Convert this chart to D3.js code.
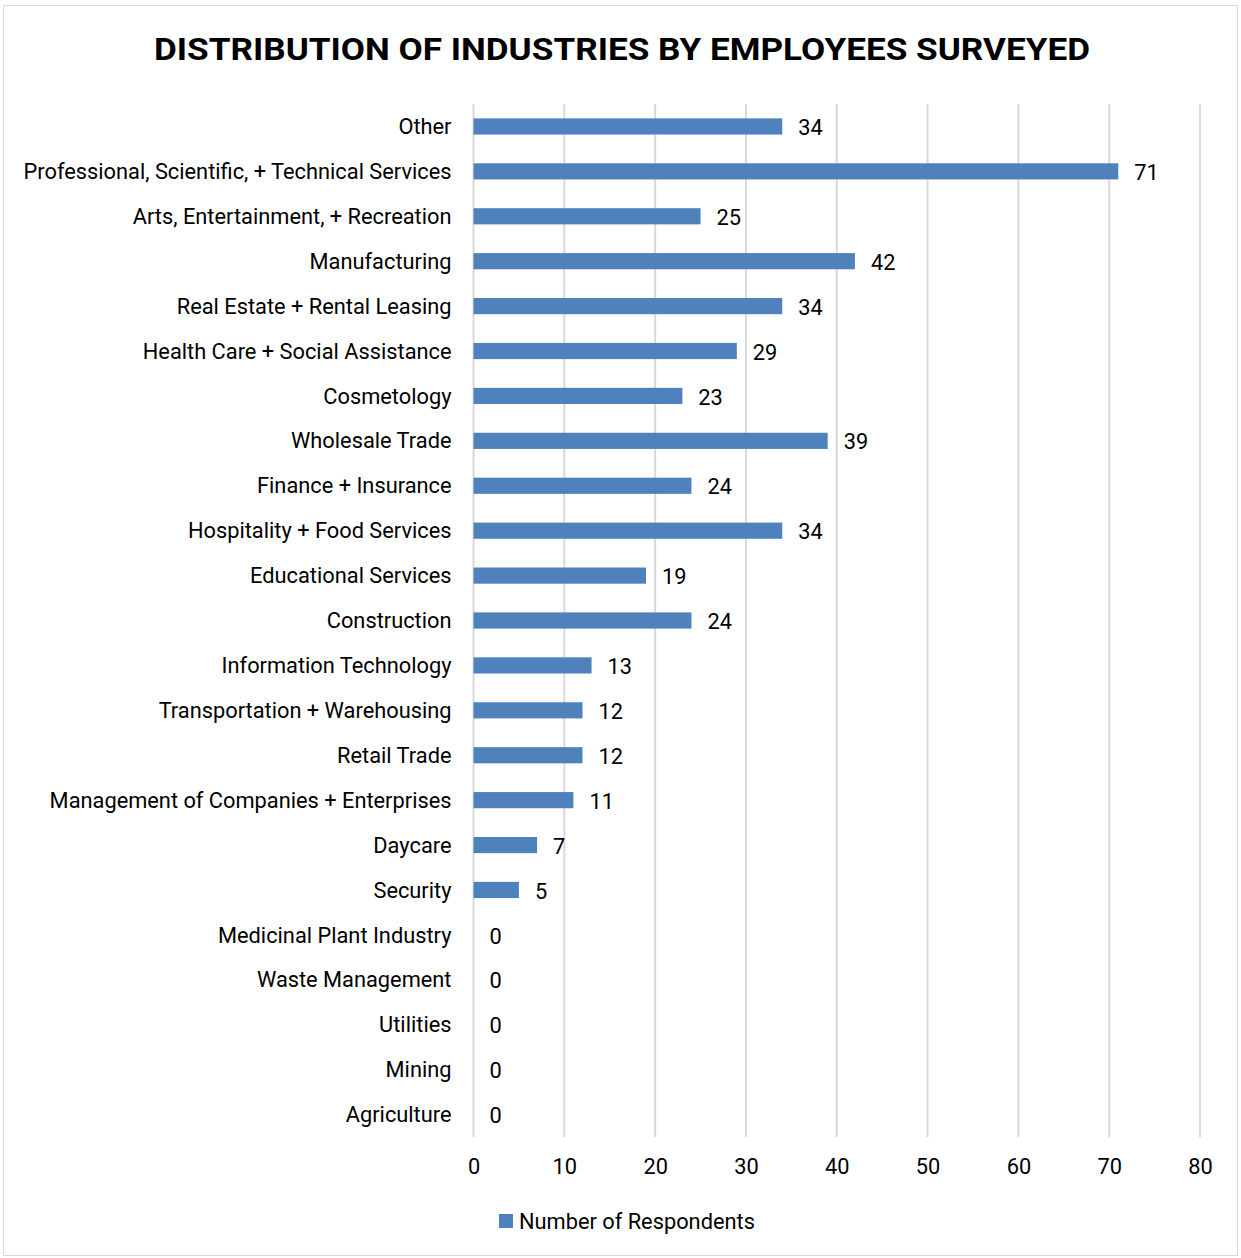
<!DOCTYPE html>
<html>
<head>
<meta charset="utf-8">
<script src="https://cdn.jsdelivr.net/npm/d3@7"></script>
<style>
  html, body { margin: 0; padding: 0; background: #fff; }
  svg { display: block; }
  text { font-family: Roboto, "Noto Sans", sans-serif; fill: #000; }
</style>
</head>
<body>
<svg id="chart" width="1241" height="1258"></svg>
<script>
// Industry categories, top to bottom
const categories = [
  "Other",
  "Professional, Scientific, + Technical Services",
  "Arts, Entertainment, + Recreation",
  "Manufacturing",
  "Real Estate + Rental Leasing",
  "Health Care + Social Assistance",
  "Cosmetology",
  "Wholesale Trade",
  "Finance + Insurance",
  "Hospitality + Food Services",
  "Educational Services",
  "Construction",
  "Information Technology",
  "Transportation + Warehousing",
  "Retail Trade",
  "Management of Companies + Enterprises",
  "Daycare",
  "Security",
  "Medicinal Plant Industry",
  "Waste Management",
  "Utilities",
  "Mining",
  "Agriculture"
];

// Number of respondents per industry
const respondents = [34, 71, 25, 42, 34, 29, 23, 39, 24, 34, 19, 24, 13, 12, 12, 11, 7, 5, 0, 0, 0, 0, 0];

// Value-axis ticks
const xTicks = [0, 10, 20, 30, 40, 50, 60, 70, 80];

const seriesName = "Number of Respondents";
const titleText = "DISTRIBUTION OF INDUSTRIES BY EMPLOYEES SURVEYED";

const data = categories.map((c, i) => ({ category: c, value: respondents[i] }));

const svg = d3.select("#chart");
const W = 1241, H = 1258;
const FS = 21.8;

// Outer chart frame
svg.append("rect")
  .attr("x", 3.5).attr("y", 5.5)
  .attr("width", W - 7).attr("height", H - 8)
  .attr("fill", "#fff")
  .attr("stroke", "#d9d9d9")
  .attr("stroke-width", 1);

const plot = { left: 473.5, right: 1200, top: 104, bottom: 1137 };

const x = d3.scaleLinear().domain([0, 80]).range([plot.left, plot.right]);
const y = d3.scaleBand().domain(categories).range([plot.top, plot.bottom]).paddingInner(0.64).paddingOuter(0.32);

// Vertical gridlines
svg.append("g")
  .selectAll("line")
  .data(xTicks)
  .join("line")
  .attr("x1", d => x(d)).attr("x2", d => x(d))
  .attr("y1", plot.top).attr("y2", plot.bottom)
  .attr("stroke", "#d9d9d9")
  .attr("stroke-width", 2);

// Title
svg.append("text")
  .attr("x", 622).attr("y", 60)
  .attr("text-anchor", "middle")
  .attr("font-size", 32)
  .attr("font-weight", 700)
  .attr("textLength", 936)
  .attr("lengthAdjust", "spacingAndGlyphs")
  .text(titleText);

// Bars
svg.append("g")
  .selectAll("rect")
  .data(data.filter(d => d.value > 0))
  .join("rect")
  .attr("x", x(0))
  .attr("y", d => y(d.category))
  .attr("width", d => x(d.value) - x(0))
  .attr("height", y.bandwidth())
  .attr("fill", "#4f81bd");

// Category labels
const yAxis = d3.axisLeft(y).tickSize(0).tickPadding(22);
const gy = svg.append("g")
  .attr("transform", `translate(${plot.left},0)`)
  .call(yAxis);
gy.select(".domain").remove();
gy.selectAll("text")
  .attr("font-size", FS)
  .attr("fill", "#000")
  .style("font-family", "Roboto, 'Noto Sans', sans-serif")
  .attr("dy", "0.35em");

// Value labels
svg.append("g")
  .selectAll("text")
  .data(data)
  .join("text")
  .attr("x", d => x(d.value) + 16)
  .attr("y", d => y(d.category) + y.bandwidth() / 2 + 1)
  .attr("dy", "0.35em")
  .attr("font-size", FS)
  .text(d => d.value);

// Value axis labels
const xAxis = d3.axisBottom(x).tickValues(xTicks).tickSize(0).tickPadding(21);
const gx = svg.append("g")
  .attr("transform", `translate(0,${plot.bottom + 1})`)
  .call(xAxis);
gx.select(".domain").remove();
gx.selectAll("text")
  .attr("font-size", FS)
  .attr("fill", "#000")
  .style("font-family", "Roboto, 'Noto Sans', sans-serif");

// Legend
const legend = svg.append("g").attr("transform", "translate(499,1214)");
legend.append("rect")
  .attr("width", 14).attr("height", 14)
  .attr("fill", "#4f81bd");
legend.append("text")
  .attr("x", 20).attr("y", 7)
  .attr("dy", "0.35em")
  .attr("font-size", FS)
  .text(seriesName);
</script>
</body>
</html>
